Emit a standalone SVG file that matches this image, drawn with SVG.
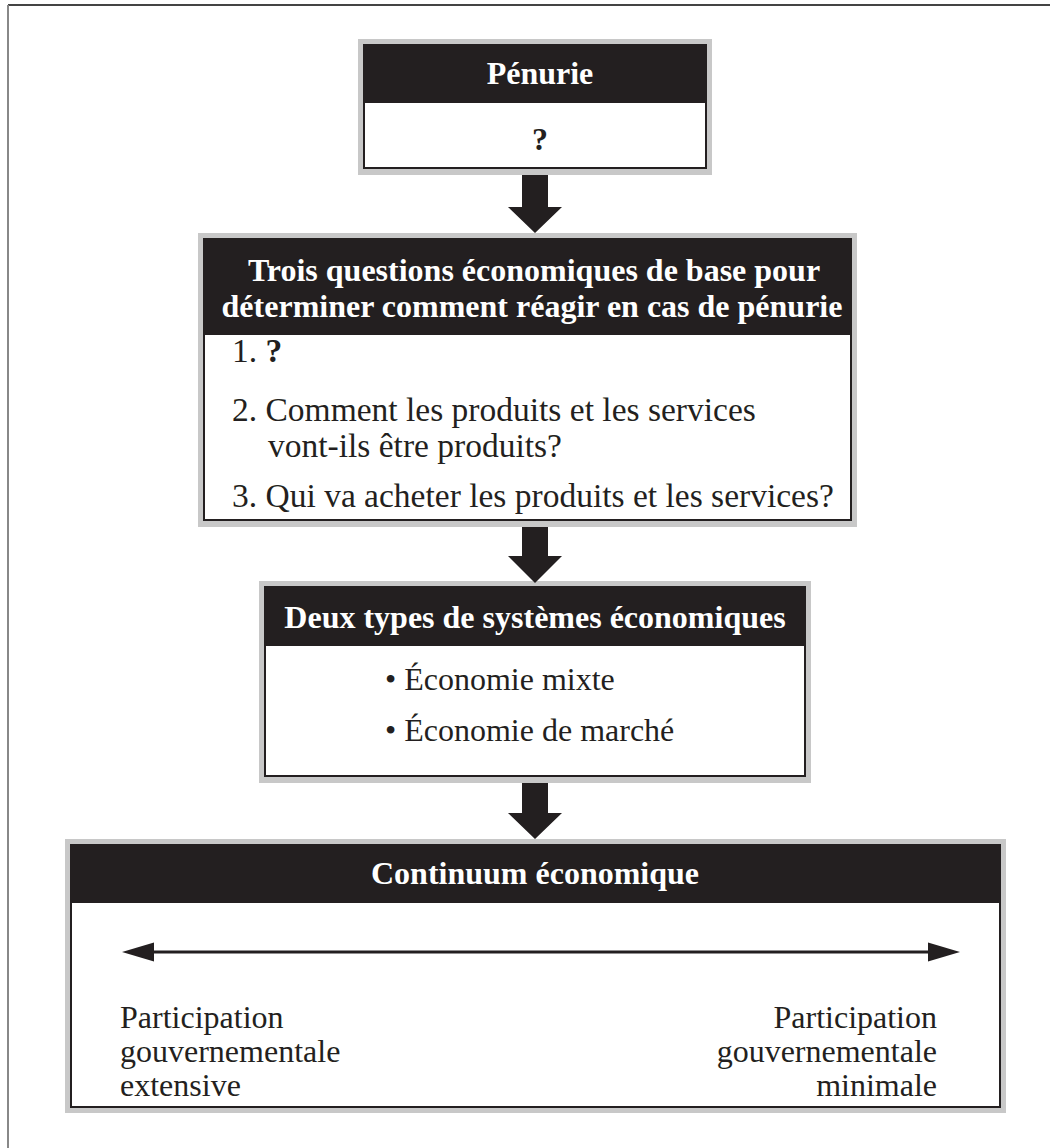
<svg xmlns="http://www.w3.org/2000/svg" width="1050" height="1148" viewBox="0 0 1050 1148">
<style>
.frame{fill:#c8c8c8}
.body{fill:#fff;stroke:#231f20;stroke-width:2}
.head{fill:#231f20}
.ht{font-family:"Liberation Serif","Times New Roman",serif;font-weight:bold;font-size:32px;fill:#fff;text-anchor:middle}
.t{font-family:"Liberation Serif","Times New Roman",serif;font-size:32px;fill:#231f20}
.q{font-size:33.5px}
.b{font-weight:bold}
.arrow{fill:#231f20}
</style>
<rect width="1050" height="1148" fill="#fff"/>
<line x1="8" y1="5" x2="1050" y2="5" stroke="#444" stroke-width="2"/>
<line x1="8" y1="5" x2="8" y2="1148" stroke="#888" stroke-width="2"/>

<g id="penurie">
<rect class="frame" x="358" y="39" width="354" height="136"/>
<rect class="body" x="364" y="45" width="342" height="123"/>
<rect class="head" x="364" y="45" width="342" height="58"/>
<text class="ht" x="540" y="84">Pénurie</text>
<text class="t b" x="540" y="150" text-anchor="middle" font-size="34">?</text>
</g>

<g id="questions">
<rect class="frame" x="198" y="233" width="659" height="294"/>
<rect class="body" x="204" y="239" width="647" height="281"/>
<rect class="head" x="204" y="239" width="647" height="96"/>
<text class="ht" x="534" y="281" font-size="32.5">Trois questions économiques de base pour</text>
<text class="ht" x="532" y="317" font-size="32.5">déterminer comment réagir en cas de pénurie</text>
<text class="t q" x="232" y="362">1. <tspan class="b">?</tspan></text>
<text class="t q" x="232" y="421">2. Comment les produits et les services</text>
<text class="t q" x="268" y="457">vont-ils être produits?</text>
<text class="t q" x="232" y="507">3. Qui va acheter les produits et les services?</text>
</g>

<g id="systemes">
<rect class="frame" x="259" y="581" width="552" height="202"/>
<rect class="body" x="265" y="587" width="540" height="189"/>
<rect class="head" x="265" y="587" width="540" height="59"/>
<text class="ht" x="535" y="628">Deux types de systèmes économiques</text>
<text class="t" x="385" y="690">• Économie mixte</text>
<text class="t" x="385" y="741">• Économie de marché</text>
</g>

<g id="continuum">
<rect class="frame" x="65" y="839" width="941" height="274"/>
<rect class="body" x="71" y="845" width="929" height="262"/>
<rect class="head" x="71" y="845" width="929" height="58"/>
<text class="ht" x="535" y="884">Continuum économique</text>
<line x1="150" y1="952" x2="932" y2="952" stroke="#231f20" stroke-width="3"/>
<polygon class="arrow" points="122,952 154,942.5 154,961.5"/>
<polygon class="arrow" points="960,952 928,942.5 928,961.5"/>
<text class="t" x="120" y="1028">Participation</text>
<text class="t" x="120" y="1062">gouvernementale</text>
<text class="t" x="120" y="1096">extensive</text>
<text class="t" x="937" y="1028" text-anchor="end">Participation</text>
<text class="t" x="937" y="1062" text-anchor="end">gouvernementale</text>
<text class="t" x="937" y="1096" text-anchor="end">minimale</text>
</g>

<g id="connectors">
<polygon class="arrow" points="522,175 548,175 548,207 562,207 535,233 508,207 522,207"/>
<polygon class="arrow" points="522,527 548,527 548,556 562,556 535,583 508,556 522,556"/>
<polygon class="arrow" points="522,783 548,783 548,813 562,813 535,839 508,813 522,813"/>
</g>
</svg>
